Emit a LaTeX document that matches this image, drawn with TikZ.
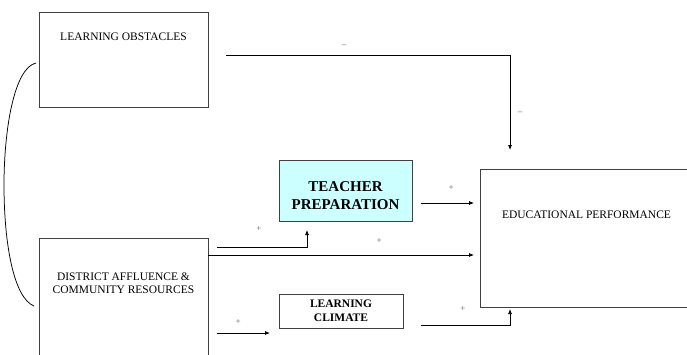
\documentclass[tikz,border=0pt]{standalone}
\usepackage{fontspec}
\setmainfont{Liberation Serif}
\usetikzlibrary{arrows.meta, positioning, calc}
\definecolor{boxline}{HTML}{404040}
\definecolor{teachfill}{HTML}{CCFFFF}
\definecolor{signgray}{HTML}{606060}
\tikzset{
    factor/.style={
        rectangle, draw=boxline, line width=0.8pt, inner sep=0pt, outer sep=0pt
    },
    factortext/.style={
        font=\fontsize{11.5}{13}\selectfont, align=center, inner sep=0pt, anchor=base
    },
    mediatortext/.style={
        align=center, inner sep=0pt
    },
    arrow/.style={
        -{Latex[length=5pt,width=4pt]}, line width=0.75pt, draw=black
    },
    link/.style={
        line width=0.75pt, draw=black
    },
    sign/.style={
        font=\fontsize{9}{10}\selectfont, text=signgray, inner sep=0.5pt
    }
}

\begin{document}
\begin{tikzpicture}[x=1pt, y=-1pt]

    \useasboundingbox (0,0) rectangle (687,354);
    \clip (0,0) rectangle (687,354);

    % boxes
    \node[factor, minimum width=169pt, minimum height=95pt]  (lo)    at (123.5,59.5) {};
    \node[factor, minimum width=169pt, minimum height=132pt] (dist)  at (123.5,304)  {};
    \node[factor, fill=teachfill, minimum width=133pt, minimum height=61pt] (teach) at (345.5,190.5) {};
    \node[factor, minimum width=124pt, minimum height=34pt, mediatortext,
          font=\bfseries\fontsize{11.5}{14}\selectfont]   (clim)  at (341,311)    {LEARNING\\CLIMATE};
    \node[factor, minimum width=213pt, minimum height=138pt] (perf)  at (586.5,238)  {};

    \node[factortext] (lotext) at ($(lo.north)+(0,28)$) {LEARNING OBSTACLES};
    \node[factortext, anchor=center] (disttext) at ($(dist.north)+(0,45)$)
        {DISTRICT AFFLUENCE \&\\COMMUNITY RESOURCES};
    \node[factortext] (perftext) at ($(perf.north)+(0,49)$) {EDUCATIONAL PERFORMANCE};
    \node[mediatortext, font=\bfseries\fontsize{15}{18}\selectfont] (teachtext)
        at ($(teach.center)+(0,5)$) {TEACHER\\PREPARATION};

    % connectors
    \coordinate (perfin) at ($(perf.north west)+(30,-19)$);
    \coordinate (bend)   at (4,185);

    \draw[arrow] ($(lo.east)+(18,-4.5)$) -| (perfin)
        node[sign, pos=0.208, yshift=9pt]  (obsminus)  {--}
        node[sign, pos=0.805, xshift=10pt] (perfminus) {--};

    \draw[arrow] ($(dist.north east)+(9,9)$) -| ($(teach.south west)+(28,9)$)
        node[sign, pos=0.233, yshift=18pt] (teachplus) {+};
    \draw[arrow] ($(dist.north east)+(0,17)$) -- ($(dist.north east -| perf.west)+(-6,17)$)
        node[sign, pos=0.643, yshift=14pt] (directplus) {+};
    \draw[arrow] ($(teach.east)+(9,12.5)$) -- ($(teach.east -| perf.west)+(-6,12.5)$)
        node[sign, pos=0.57, yshift=15pt] (prepplus) {+};
    \draw[arrow] ($(dist.north east)+(9,95)$) -- ($(clim.south west)+(-9,5)$)
        node[sign, pos=0.4, yshift=11pt] (climplus) {+};
    \draw[arrow] ($(clim.east)+(18,14)$) -| ($(perf.south west)+(30,2)$)
        node[sign, pos=0.236, yshift=16pt] (climperfplus) {+};

    \draw[link] ($(lo.west)+(-3,3.5)$) .. controls (14,68) and (4,130) .. (bend)
        .. controls (4,245) and (14,298) .. ($(dist.west)+(-5,2)$);

\end{tikzpicture}
\end{document}
